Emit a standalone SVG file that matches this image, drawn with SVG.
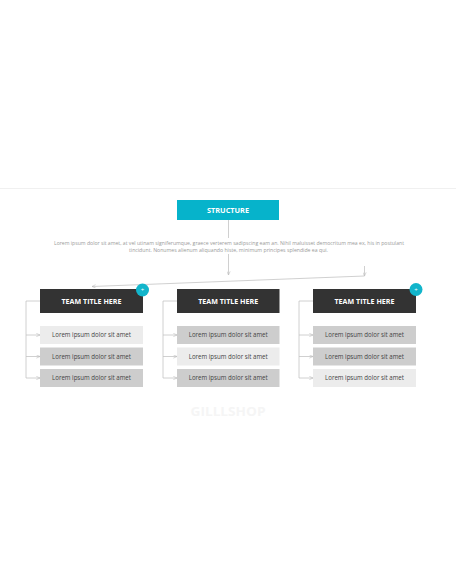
<svg xmlns="http://www.w3.org/2000/svg" width="456" height="586" viewBox="0 0 456 586">
<defs>
<style>
.title{font-family:"Open Sans","Liberation Sans",sans-serif;font-weight:700;font-size:7px;fill:#ffffff;text-anchor:middle}
.item{font-family:"Open Sans","Liberation Sans",sans-serif;font-size:6.3px;fill:#444444;text-anchor:middle}
.para{font-family:"Open Sans","Liberation Sans",sans-serif;font-size:4.6px;fill:#9a9a9a;text-anchor:middle}
.dark{fill:#333333}
.light{fill:#ececec}
.mid{fill:#cdcdcd}
.conn{fill:none;stroke:#c4c4c4;stroke-width:0.8}
.plus{fill:#12b5cb}
</style>
<marker id="ah" viewBox="0 0 6 6" refX="5.5" refY="3" markerWidth="4" markerHeight="4" orient="auto" markerUnits="userSpaceOnUse">
<path d="M0,0.5 L5.5,3 L0,5.5" fill="none" stroke="#bdbdbd" stroke-width="0.9"/>
</marker>
</defs>
<rect width="456" height="586" fill="#ffffff"/>
<line x1="0" y1="188.5" x2="456" y2="188.5" stroke="#f0f0f0" stroke-width="1"/>
<text x="228" y="416" font-family="Open Sans,Liberation Sans,sans-serif" font-weight="700" font-size="12" fill="#f5f5f5" text-anchor="middle" textLength="75" lengthAdjust="spacingAndGlyphs">GILLLSHOP</text>

<g id="connectors">
<line class="conn" x1="228.5" y1="220" x2="228.5" y2="238"/>
<line class="conn" x1="228.5" y1="254" x2="228.5" y2="275" marker-end="url(#ah)"/>
<line class="conn" x1="364.5" y1="266" x2="364.5" y2="276" marker-end="url(#ah)"/>
<line class="conn" x1="364.5" y1="276" x2="92" y2="286.5" marker-end="url(#ah)"/>
<path class="conn" d="M40,301 H26 V378"/>
<line class="conn" x1="26" y1="335" x2="40" y2="335" marker-end="url(#ah)"/>
<line class="conn" x1="26" y1="356.5" x2="40" y2="356.5" marker-end="url(#ah)"/>
<line class="conn" x1="26" y1="378" x2="40" y2="378" marker-end="url(#ah)"/>
<path class="conn" d="M177,301 H163 V378"/>
<line class="conn" x1="163" y1="335" x2="177" y2="335" marker-end="url(#ah)"/>
<line class="conn" x1="163" y1="356.5" x2="177" y2="356.5" marker-end="url(#ah)"/>
<line class="conn" x1="163" y1="378" x2="177" y2="378" marker-end="url(#ah)"/>
<path class="conn" d="M313,301 H299 V378"/>
<line class="conn" x1="299" y1="335" x2="313" y2="335" marker-end="url(#ah)"/>
<line class="conn" x1="299" y1="356.5" x2="313" y2="356.5" marker-end="url(#ah)"/>
<line class="conn" x1="299" y1="378" x2="313" y2="378" marker-end="url(#ah)"/>
</g>

<g id="structure">
<rect x="177" y="200" width="102" height="20" fill="#06b3cb"/>
<text x="228" y="213" font-family="Open Sans,Liberation Sans,sans-serif" font-weight="700" font-size="7" fill="#ffffff" text-anchor="middle" textLength="42" lengthAdjust="spacingAndGlyphs">STRUCTURE</text>
</g>

<g id="description">
<text class="para" x="229" y="245" textLength="350" lengthAdjust="spacingAndGlyphs">Lorem ipsum dolor sit amet, at vel utinam signiferumque, graece verterem sadipscing eam an. Nihil maluisset democritum mea ex, his in postulant</text>
<text class="para" x="228.5" y="251.5" textLength="199" lengthAdjust="spacingAndGlyphs">tincidunt. Nonumes alienum aliquando histe, minimum principes splendide ea qui.</text>
</g>

<g id="team1">
<rect class="dark" x="40" y="289" width="103" height="24"/>
<text class="title" x="91.5" y="303.5" textLength="60" lengthAdjust="spacingAndGlyphs">TEAM TITLE HERE</text>
<circle class="plus" cx="142.5" cy="290" r="6.5"/>
<text x="142.5" y="292.2" font-family="Open Sans,Liberation Sans,sans-serif" font-size="6" fill="#ffffff" text-anchor="middle">+</text>
</g>
<g id="team1-item1"><rect class="light" x="40" y="326" width="103" height="18"/><text class="item" x="91.5" y="337.2" textLength="79" lengthAdjust="spacingAndGlyphs">Lorem ipsum dolor sit amet</text></g>
<g id="team1-item2"><rect class="mid" x="40" y="347.5" width="103" height="18"/><text class="item" x="91.5" y="358.7" textLength="79" lengthAdjust="spacingAndGlyphs">Lorem ipsum dolor sit amet</text></g>
<g id="team1-item3"><rect class="mid" x="40" y="369" width="103" height="18"/><text class="item" x="91.5" y="380.2" textLength="79" lengthAdjust="spacingAndGlyphs">Lorem ipsum dolor sit amet</text></g>

<g id="team2">
<rect class="dark" x="177" y="289" width="102.5" height="24"/>
<text class="title" x="228.2" y="303.5" textLength="60" lengthAdjust="spacingAndGlyphs">TEAM TITLE HERE</text>
</g>
<g id="team2-item1"><rect class="mid" x="177" y="326" width="102.5" height="18"/><text class="item" x="228.2" y="337.2" textLength="79" lengthAdjust="spacingAndGlyphs">Lorem ipsum dolor sit amet</text></g>
<g id="team2-item2"><rect class="light" x="177" y="347.5" width="102.5" height="18"/><text class="item" x="228.2" y="358.7" textLength="79" lengthAdjust="spacingAndGlyphs">Lorem ipsum dolor sit amet</text></g>
<g id="team2-item3"><rect class="mid" x="177" y="369" width="102.5" height="18"/><text class="item" x="228.2" y="380.2" textLength="79" lengthAdjust="spacingAndGlyphs">Lorem ipsum dolor sit amet</text></g>

<g id="team3">
<rect class="dark" x="313" y="289" width="103" height="24"/>
<text class="title" x="364.5" y="303.5" textLength="60" lengthAdjust="spacingAndGlyphs">TEAM TITLE HERE</text>
<circle class="plus" cx="416" cy="289.5" r="6.5"/>
<text x="416" y="291.7" font-family="Open Sans,Liberation Sans,sans-serif" font-size="6" fill="#ffffff" text-anchor="middle">+</text>
</g>
<g id="team3-item1"><rect class="mid" x="313" y="326" width="103" height="18"/><text class="item" x="364.5" y="337.2" textLength="79" lengthAdjust="spacingAndGlyphs">Lorem ipsum dolor sit amet</text></g>
<g id="team3-item2"><rect class="mid" x="313" y="347.5" width="103" height="18"/><text class="item" x="364.5" y="358.7" textLength="79" lengthAdjust="spacingAndGlyphs">Lorem ipsum dolor sit amet</text></g>
<g id="team3-item3"><rect class="light" x="313" y="369" width="103" height="18"/><text class="item" x="364.5" y="380.2" textLength="79" lengthAdjust="spacingAndGlyphs">Lorem ipsum dolor sit amet</text></g>
</svg>
